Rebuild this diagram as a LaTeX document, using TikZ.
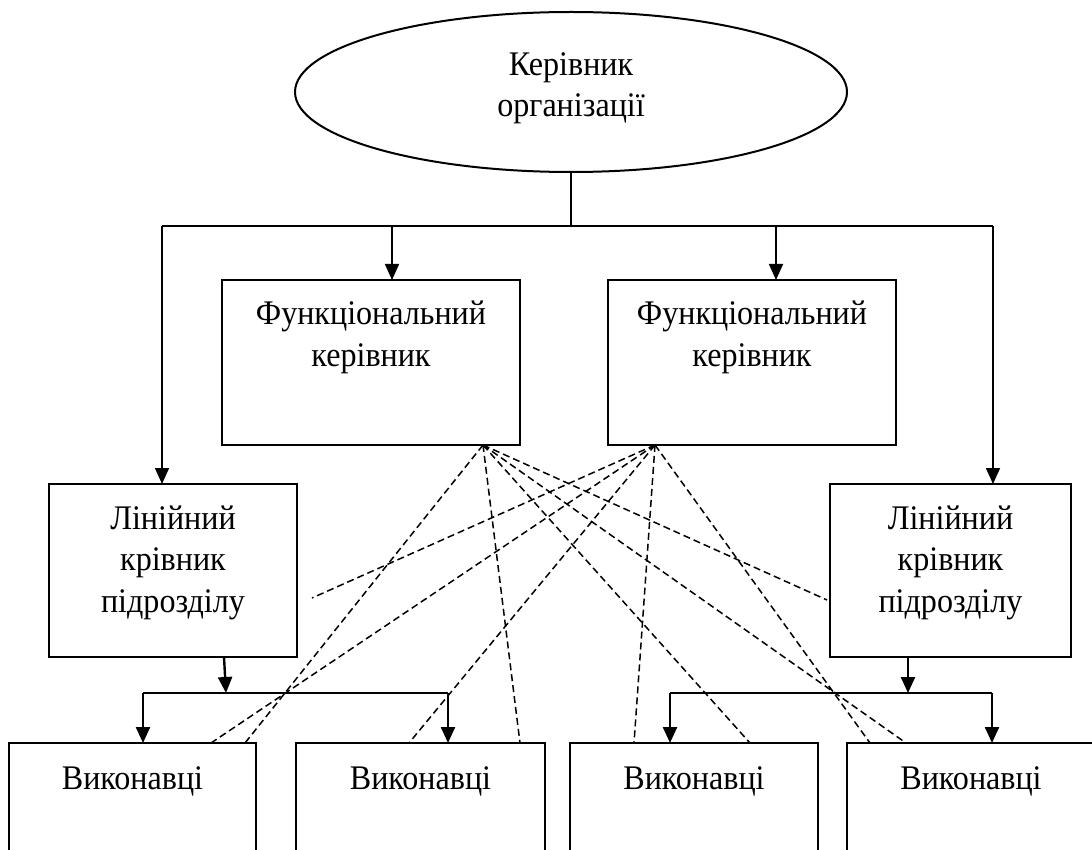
\documentclass[tikz,border=0pt]{standalone}
\usepackage{fontspec}
\setmainfont{Liberation Serif}[FakeStretch=0.93]
\usetikzlibrary{arrows.meta,shapes.geometric}
\begin{document}
\begin{tikzpicture}[x=1pt,y=-1pt,
  box/.style={draw, line width=2pt, rectangle, inner sep=0pt, outer sep=0pt},
  lbl/.style={font=\fontsize{34.5}{41.5}\selectfont, inner sep=0pt, anchor=base, align=center},
  arr/.style={line width=1.6pt, -{Triangle[length=16pt,width=14pt]}},
  thinln/.style={line width=1.5pt},
  brk/.style={line width=2.4pt},
  brarr/.style={line width=2.4pt, -{Triangle[length=16pt,width=14pt]}},
  dsh/.style={line width=1.5pt, dash pattern=on 7pt off 4pt},
]
\useasboundingbox (0,0) rectangle (1092,850);
\clip (0,0) rectangle (1092,850);
\fill[white] (0,0) rectangle (1092,850);

% nodes
\node[draw, ellipse, line width=2pt, minimum width=552pt, minimum height=160pt, inner sep=0pt] (top) at (571,92) {};
\node[lbl] (toptxt) at (571,117) {Керівник\\організації};

\node[box, minimum width=298pt, minimum height=165pt] (f1) at (371,362.5) {};
\node[lbl] (f1txt) at (371,366) {Функціональний\\керівник};
\node[box, minimum width=288pt, minimum height=165pt] (f2) at (752,362.5) {};
\node[lbl] (f2txt) at (752,366) {Функціональний\\керівник};

\node[box, minimum width=248pt, minimum height=173pt] (lin1) at (173,570.5) {};
\node[lbl] (lin1txt) at (173,612) {Лінійний\\крівник\\підрозділу};
\node[box, minimum width=241pt, minimum height=173pt] (lin2) at (950.5,570.5) {};
\node[lbl] (lin2txt) at (950.5,612) {Лінійний\\крівник\\підрозділу};

\node[box, minimum width=247pt, minimum height=130pt] (e1) at (132.5,808) {};
\node[lbl] (e1txt) at (132.5,789) {Виконавці};
\node[box, minimum width=249pt, minimum height=130pt] (e2) at (420.5,808) {};
\node[lbl] (e2txt) at (420.5,789) {Виконавці};
\node[box, minimum width=248pt, minimum height=130pt] (e3) at (694,808) {};
\node[lbl] (e3txt) at (694,789) {Виконавці};
\node[box, minimum width=248pt, minimum height=130pt] (e4) at (971,808) {};
\node[lbl] (e4txt) at (971,789) {Виконавці};

% top connectors
\coordinate (hub) at (571,226);
\coordinate (hl) at (162,226);
\coordinate (hr) at (993,226);
\coordinate (a1) at (392,226);
\coordinate (a2) at (776,226);
\draw[thinln] (top.south) -- (hub);
\draw[thinln] (hl) -- (hr);
\draw[arr] (hl) -- (hl |- lin1.north);
\draw[arr] (hr) -- (hr |- lin2.north);
\draw[arr] (a1) -- (a1 |- f1.north);
\draw[arr] (a2) -- (a2 |- f2.north);

% left bracket
\coordinate (l0) at (224,657);
\coordinate (lb) at (226,693);
\coordinate (lbl1) at (143,693);
\coordinate (lbr1) at (448,693);
\draw[brarr] (l0) -- (lb);
\draw[brk] (lbl1) -- (lbr1);
\draw[brarr] (lbl1) -- (lbl1 |- e1.north);
\draw[brarr] (lbr1) -- (lbr1 |- e2.north);

% right bracket
\coordinate (r0) at (908,657);
\coordinate (rb) at (908,693);
\coordinate (rbl1) at (670,693);
\coordinate (rbr1) at (992,693);
\draw[brarr] (r0) -- (rb);
\draw[brk] (rbl1) -- (rbr1);
\draw[brarr] (rbl1) -- (rbl1 |- e3.north);
\draw[brarr] (rbr1) -- (rbr1 |- e4.north);

% dashed links
\coordinate (L) at (483,445);
\coordinate (R) at (655,445);
\coordinate (p1) at (245,743);
\coordinate (p2) at (520,743);
\coordinate (p3) at (750,743);
\coordinate (p4) at (906,743);
\coordinate (p5) at (827,600);
\coordinate (q1) at (211,743);
\coordinate (q2) at (409,743);
\coordinate (q3) at (634,743);
\coordinate (q4) at (870,743);
\coordinate (q5) at (312,598);
\foreach \p in {p1,p2,p3,p4,p5} \draw[dsh] (L) -- (\p);
\foreach \q in {q1,q2,q3,q4,q5} \draw[dsh] (R) -- (\q);
\end{tikzpicture}
\end{document}
